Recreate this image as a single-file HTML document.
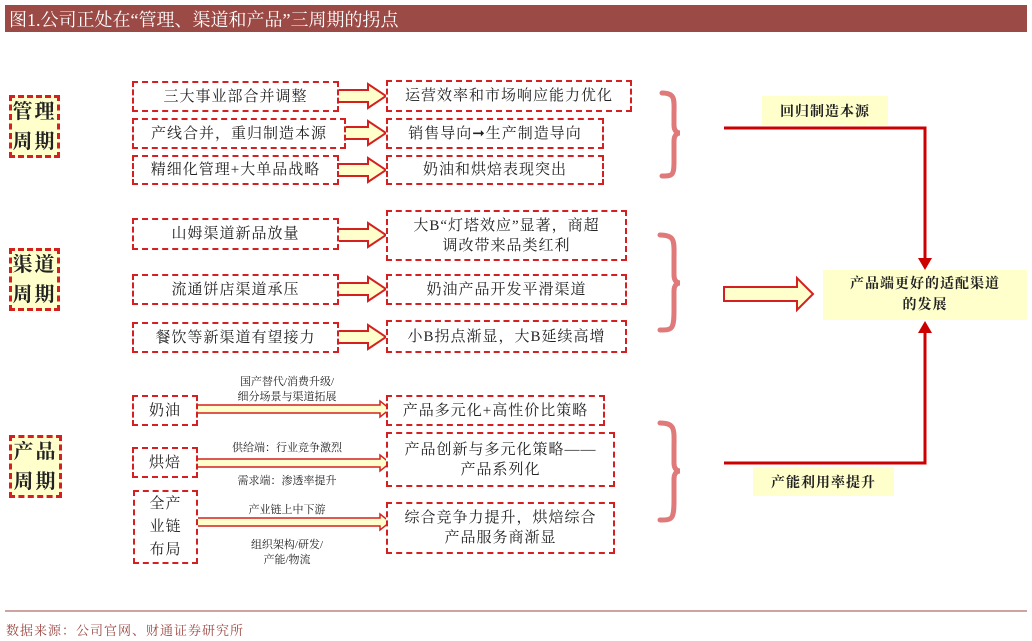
<!DOCTYPE html>
<html><head><meta charset="utf-8"><style>
body{margin:0;width:1032px;height:641px;background:#fff;position:relative;overflow:hidden;font-family:"Liberation Serif","Noto Serif CJK SC",serif;color:#222}
.a{position:absolute;box-sizing:border-box;display:flex;align-items:center;justify-content:center;text-align:center}
.b{border:2px dashed #d42020;background:#fff;font-size:15px;line-height:20px;letter-spacing:1px}
.y{background:#ffffcc}
.L{border:3px dashed #d42020;background:#ffffcc;font-size:20px;line-height:30px;font-weight:bold;letter-spacing:2px}
.s{font-size:11px;line-height:15px;position:absolute;text-align:center;white-space:nowrap}
</style></head><body>
<div class="a" style="left:5px;top:5px;width:1022px;height:27px;background:#9b4a45;color:#fff;font-size:18px;justify-content:flex-start;padding-left:4px">图1.公司正处在“管理、渠道和产品”三周期的拐点</div>

<div class="a L" style="left:9px;top:95px;width:51px;height:63px">管理<br>周期</div>
<div class="a L" style="left:9px;top:248px;width:51px;height:63px">渠道<br>周期</div>
<div class="a L" style="left:9px;top:435px;width:53px;height:63px">产品<br>周期</div>

<svg style="position:absolute;left:0;top:0" width="1032" height="641">
<defs>
<g id="fa"><path d="M0,-6 H34 V-12 L52,0 L34,12 V6 H0 Z" fill="#ffffcc" stroke="#d42020" stroke-width="2"/></g>
</defs>
<g transform="translate(334,96)"><use href="#fa"/></g>
<g transform="translate(334,133)"><use href="#fa"/></g>
<g transform="translate(334,170)"><use href="#fa"/></g>
<g transform="translate(334,235)"><use href="#fa"/></g>
<g transform="translate(334,289)"><use href="#fa"/></g>
<g transform="translate(334,337)"><use href="#fa"/></g>
<path d="M187,405 H380 V401 L390,409 L380,417 V413 H187 Z" fill="#ffffcc" stroke="#d42020" stroke-width="1.5"/>
<path d="M187,459 H380 V455 L390,463 L380,471 V467 H187 Z" fill="#ffffcc" stroke="#d42020" stroke-width="1.5"/>
<path d="M187,518 H380 V514 L390,522 L380,530 V526 H187 Z" fill="#ffffcc" stroke="#d42020" stroke-width="1.5"/>
<g fill="none" stroke="#e07a7a" stroke-width="5" stroke-linecap="round">
<path d="M662,93 C676,93 674,100 674,115 V125 C674,131 677,133 680,133 C677,133 674,135 674,141 V162 C674,176 672,176 662,176"/>
<path d="M660,235 C676,235 674,242 674,260 V275 C674,281 677,283 680,283 C677,283 674,285 674,291 V310 C674,330 672,330 660,330"/>
<path d="M660,423 C676,423 674,430 674,450 V463 C674,469 677,471 680,471 C677,471 674,473 674,479 V500 C674,520 672,520 660,520"/>
</g>
<path d="M724,287 H797 V278 L813,294 L797,310 V301 H724 Z" fill="#ffffcc" stroke="#d42020" stroke-width="2"/>
<path d="M724,128 H925 V262" fill="none" stroke="#cc0000" stroke-width="3"/>
<path d="M918,258 L925,270 L932,258 Z" fill="#cc0000"/>
<path d="M724,463 H925 V330" fill="none" stroke="#cc0000" stroke-width="3"/>
<path d="M918,333 L925,321 L932,333 Z" fill="#cc0000"/>
<line x1="5" y1="611" x2="1027" y2="611" stroke="#9b4a45" stroke-width="1"/>
</svg>

<div class="a b" style="left:132px;top:81px;width:207px;height:31px">三大事业部合并调整</div>
<div class="a b" style="left:386px;top:80px;width:246px;height:32px">运营效率和市场响应能力优化</div>
<div class="a b" style="left:132px;top:118px;width:214px;height:31px">产线合并，重归制造本源</div>
<div class="a b" style="left:386px;top:118px;width:218px;height:31px">销售导向➞生产制造导向</div>
<div class="a b" style="left:132px;top:155px;width:207px;height:30px">精细化管理+大单品战略</div>
<div class="a b" style="left:386px;top:155px;width:218px;height:30px">奶油和烘焙表现突出</div>

<div class="a b" style="left:132px;top:218px;width:207px;height:32px">山姆渠道新品放量</div>
<div class="a b" style="left:386px;top:210px;width:241px;height:51px">大B“灯塔效应”显著，商超<br>调改带来品类红利</div>
<div class="a b" style="left:132px;top:274px;width:207px;height:31px">流通饼店渠道承压</div>
<div class="a b" style="left:386px;top:274px;width:241px;height:31px">奶油产品开发平滑渠道</div>
<div class="a b" style="left:132px;top:322px;width:207px;height:31px">餐饮等新渠道有望接力</div>
<div class="a b" style="left:386px;top:320px;width:241px;height:33px">小B拐点渐显，大B延续高增</div>

<div class="a b" style="left:132px;top:395px;width:66px;height:31px">奶油</div>
<div class="a b" style="left:386px;top:395px;width:219px;height:31px">产品多元化+高性价比策略</div>
<div class="a b" style="left:132px;top:447px;width:66px;height:31px">烘焙</div>
<div class="a b" style="left:386px;top:432px;width:229px;height:55px">产品创新与多元化策略——<br>产品系列化</div>
<div class="a b" style="left:133px;top:490px;width:65px;height:74px;line-height:23px">全产<br>业链<br>布局</div>
<div class="a b" style="left:386px;top:502px;width:229px;height:52px">综合竞争力提升，烘焙综合<br>产品服务商渐显</div>

<div class="s" style="left:207px;width:160px;top:375px">国产替代/消费升级/<br>细分场景与渠道拓展</div>
<div class="s" style="left:207px;width:160px;top:441px">供给端：行业竞争激烈</div>
<div class="s" style="left:207px;width:160px;top:474px">需求端：渗透率提升</div>
<div class="s" style="left:207px;width:160px;top:503px">产业链上中下游</div>
<div class="s" style="left:207px;width:160px;top:538px">组织架构/研发/<br>产能/物流</div>

<div class="a y" style="left:762px;top:96px;width:126px;height:29px;font-size:14px;font-weight:bold;letter-spacing:1px">回归制造本源</div>
<div class="a y" style="left:823px;top:270px;width:204px;height:50px;font-size:14px;font-weight:bold;line-height:21px;letter-spacing:1px">产品端更好的适配渠道<br>的发展</div>
<div class="a y" style="left:753px;top:467px;width:141px;height:29px;font-size:14px;font-weight:bold;letter-spacing:1px">产能利用率提升</div>

<div style="position:absolute;left:6px;top:620px;font-size:13px;color:#9b4a45;letter-spacing:1px">数据来源：公司官网、财通证券研究所</div>
</body></html>
